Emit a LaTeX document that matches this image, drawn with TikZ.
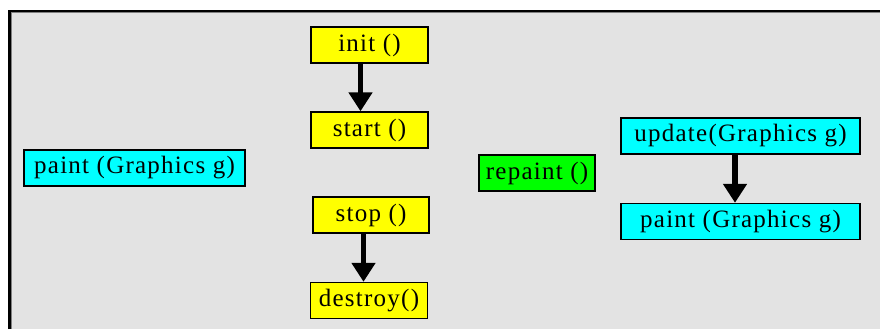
\documentclass[tikz,border=0pt]{standalone}
\usepackage{fontspec}
\setmainfont{Liberation Serif}
\newfontfamily\boxfont[LetterSpace=5]{Liberation Serif}
\usetikzlibrary{arrows.meta,calc}
\definecolor{bggray}{HTML}{E3E3E3}
\definecolor{yel}{HTML}{FFFF00}
\definecolor{cya}{HTML}{00FFFF}
\definecolor{grn}{HTML}{00FF00}
\tikzset{
  method/.style={draw=black, line width=1.4pt, inner sep=0pt, anchor=center,
    font=\boxfont\fontsize{25}{25}\selectfont, minimum height=36pt},
  yelbox/.style={method, fill=yel, minimum width=117pt},
  cyabox/.style={method, fill=cya},
  grnbox/.style={method, fill=grn, minimum width=116pt},
  callarrow/.style={line width=5.5pt, -{Triangle[width=23pt,length=19pt]}}
}
\begin{document}
\begin{tikzpicture}[x=1pt,y=-1pt]
\useasboundingbox (0,0) rectangle (880,329);
% frame
\fill[white] (0,0) rectangle (880,329);
\fill[bggray] (8,10) rectangle (880,329);
\draw[black, line width=2.5pt] (9.25,329) -- (9.25,11.25) -- (880,11.25);
\draw[gray, line width=1pt] (11,329) -- (11,13) -- (880,13);
% nodes
\node[yelbox] (init) at (369.5,45) {init ()};
\node[yelbox] (start) at (369.5,130) {start ()};
\node[yelbox, minimum width=116pt] (stop) at (371,215) {stop ()};
\node[yelbox] (destroy) at (369,300.5) {destroy()};
\node[cyabox, minimum width=221pt] (paintL) at (134.5,168) {paint (Graphics g)};
\node[grnbox] (repaint) at (537,173) {repaint ()};
\node[cyabox, minimum width=239pt] (update) at (740.5,136) {update(Graphics g)};
\node[cyabox, minimum width=239pt] (paintR) at (740.5,221.5) {paint (Graphics g)};
% connectors
\coordinate (a1) at ($(init.south)+(-9,0)$);
\draw[callarrow] (a1) -- (a1 |- start.north);
\coordinate (a2) at ($(stop.south)+(-7.5,0)$);
\draw[callarrow] (a2) -- (a2 |- destroy.north);
\coordinate (a3) at ($(update.south)+(-5.5,0)$);
\draw[callarrow] (a3) -- (a3 |- paintR.north);
\end{tikzpicture}
\end{document}
